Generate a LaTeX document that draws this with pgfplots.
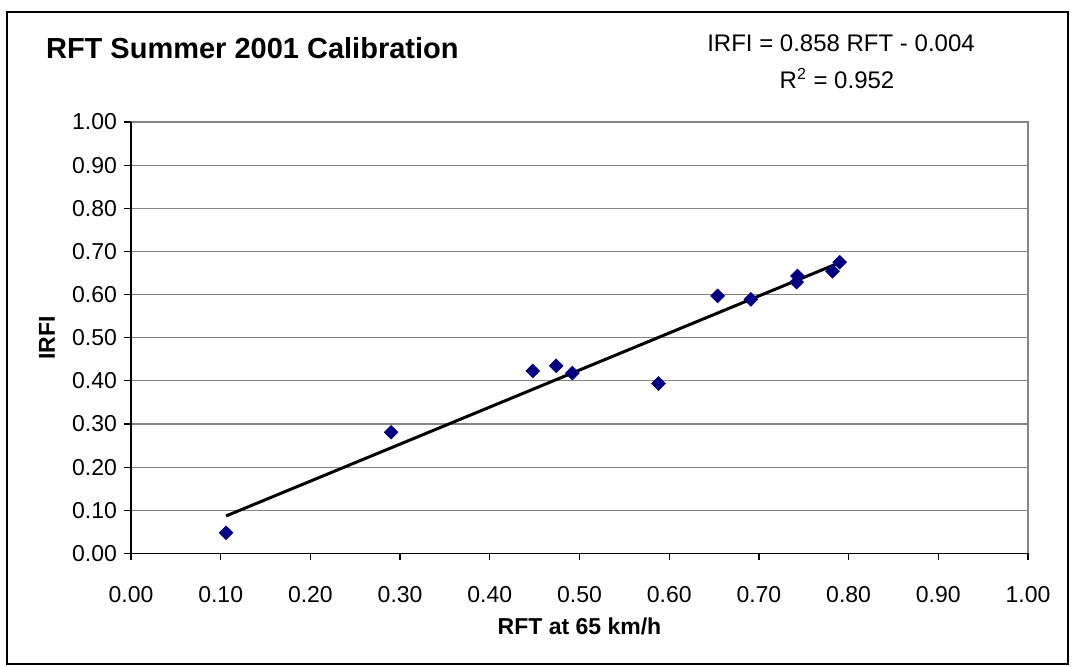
\documentclass[border=0pt]{standalone}
\usepackage{fontspec}
\setmainfont{Liberation Sans}
\setsansfont{Liberation Sans}
\usepackage{pgfplots}
\pgfplotsset{compat=1.18}

\definecolor{navy}{HTML}{000080}
\definecolor{gridgray}{HTML}{858585}

\begin{document}
\begin{tikzpicture}
\path[use as bounding box] (-65.5pt,-56.75pt) rectangle (471pt,276.75pt);
\draw[line width=1pt] (-62pt,-55.5pt) rectangle (468.5pt,270.75pt);

\begin{axis}[
    at={(0pt,0pt)}, anchor=south west,
    scale only axis,
    width=448.5pt,
    height=215.75pt,
    xmin=0, xmax=1,
    ymin=0, ymax=1,
    xtick={0,0.1,...,1.0},
    ytick={0,0.1,...,1.0},
    tick pos=left,
    tick align=outside,
    major tick length=3.5pt,
    tick style={black, line width=0.6pt},
    axis line style={draw=none},
    ymajorgrids,
    grid style={gridgray, line width=0.6pt},
    /pgf/number format/assume math mode=true,
    /pgf/number format/.cd, fixed, fixed zerofill, precision=2,
    /pgfplots/.cd,
    ticklabel style={font=\fontsize{11.5}{13}\selectfont},
    xticklabel style={yshift=-9.5pt},
    xlabel={\textbf{RFT at 65 km/h}},
    ylabel={\textbf{IRFI}},
    label style={font=\fontsize{11.5}{13}\selectfont},
    xlabel style={at={(axis description cs:0.5,-0.1700)}, anchor=center},
    ylabel style={at={(axis description cs:-0.0936,0.5)}, anchor=center},
    clip=false,
]

% frame: gray top/right, black left/bottom
\draw[gridgray, line width=0.8pt] (rel axis cs:0,1) -- (rel axis cs:1,1) -- (rel axis cs:1,0);
\draw[black, line width=0.8pt] (rel axis cs:0,1) -- (rel axis cs:0,0) -- (rel axis cs:1,0);

\addplot[only marks, mark=square*, mark size=2.4pt,
    mark options={rotate=45, fill=navy, draw=navy}] coordinates {
(0.106,0.048)
(0.290,0.281)
(0.448,0.423)
(0.474,0.435)
(0.492,0.418)
(0.588,0.394)
(0.654,0.597)
(0.691,0.589)
(0.743,0.643)
(0.742,0.629)
(0.782,0.654)
(0.790,0.675)
};

% linear trend line
\addplot[black, line width=1.5pt] coordinates {(0.106,0.087) (0.790,0.674)};

\end{axis}

\node[anchor=west, font=\bfseries\fontsize{14.5}{16}\selectfont] at (-46pt,252.5pt) {RFT Summer 2001 Calibration};
\node[font=\fontsize{12}{13}\selectfont] at (355pt,255pt) {IRFI = 0.858 RFT - 0.004};
\node[font=\fontsize{12}{13}\selectfont] at (353pt,237.5pt) {R\textsuperscript{2} = 0.952};
\end{tikzpicture}
\end{document}
